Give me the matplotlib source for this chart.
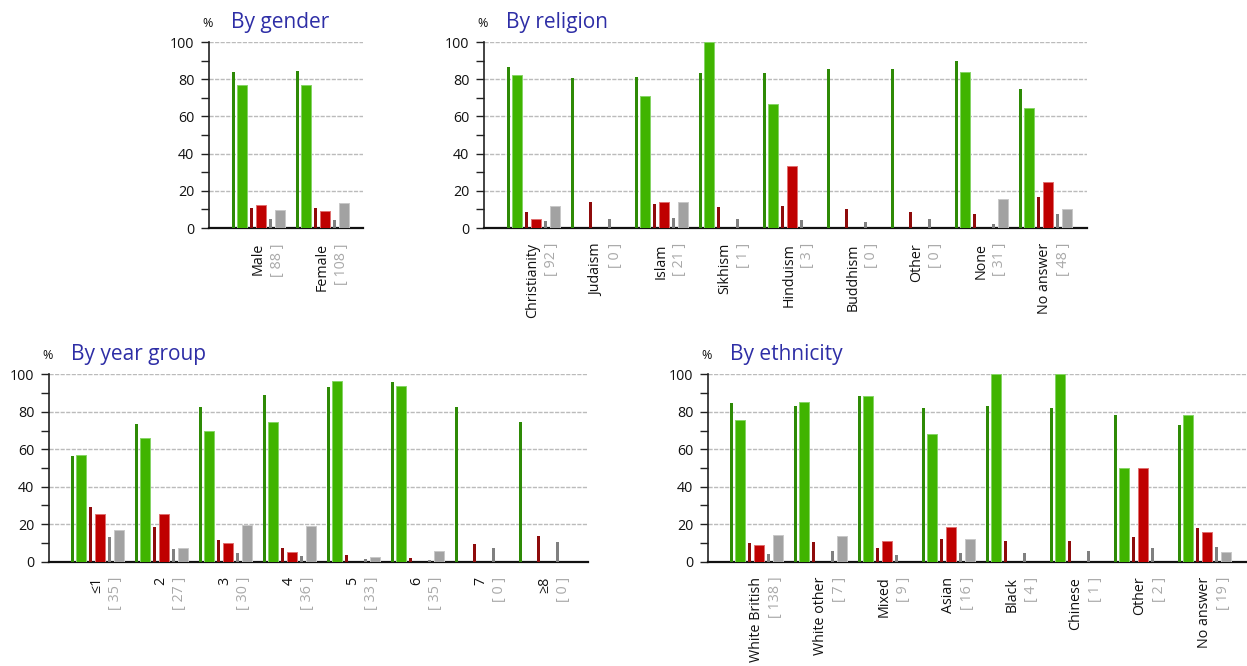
import matplotlib
matplotlib.use("Agg")
import matplotlib.pyplot as plt
import numpy as np

plt.rcParams['font.family'] = ['Open Sans', 'DejaVu Sans']

# ---------------- data ----------------
gender_cats = ["Male", "Female"]
gender_n = [88, 108]
gender_thin_green = [84, 84.3]
gender_green = [77.1, 76.7]
gender_thin_red = [10.7, 10.7]
gender_red = [12.2, 9.1]
gender_thin_gray = [4.7, 4.5]
gender_gray = [9.8, 13.6]

religion_cats = ["Christianity", "Judaism", "Islam", "Sikhism", "Hinduism",
                 "Buddhism", "Other", "None", "No answer"]
religion_n = [92, 0, 21, 1, 3, 0, 0, 31, 48]
religion_thin_green = [86.8, 80.5, 81.0, 83.5, 83.5, 85.7, 85.7, 89.6, 74.6]
religion_green = [82.5, 0, 71.2, 100, 66.4, 0, 0, 83.9, 64.4]
religion_thin_red = [8.8, 13.8, 12.9, 11.1, 11.6, 10.4, 8.8, 7.5, 16.8]
religion_red = [5.0, 0, 14.0, 0, 33.1, 0, 0, 0, 24.7]
religion_thin_gray = [3.8, 4.7, 5.2, 4.7, 4.1, 3.2, 4.8, 2.3, 7.7]
religion_gray = [11.6, 0, 14.0, 0, 0, 0, 0, 15.7, 10.2]

year_cats = ["≤1", "2", "3", "4", "5", "6", "7", "≥8"]
year_n = [35, 27, 30, 36, 33, 35, 0, 0]
year_thin_green = [56.6, 73.7, 82.6, 89.0, 93.4, 95.9, 82.6, 74.6]
year_green = [56.8, 66.2, 69.6, 74.6, 96.4, 93.8, 0, 0]
year_thin_red = [29.2, 18.7, 11.7, 7.1, 3.6, 2.0, 9.4, 13.9]
year_red = [25.6, 25.6, 9.8, 5.3, 0, 0, 0, 0]
year_thin_gray = [13.3, 6.8, 4.8, 3.0, 1.4, 0.9, 7.1, 10.5]
year_gray = [16.9, 7.1, 19.8, 19.2, 2.7, 5.5, 0, 0]

eth_cats = ["White British", "White other", "Mixed", "Asian", "Black",
            "Chinese", "Other", "No answer"]
eth_n = [138, 7, 9, 16, 4, 1, 2, 19]
eth_thin_green = [84.9, 83.3, 88.6, 81.9, 83.1, 82.0, 78.3, 73.1]
eth_green = [75.6, 85.2, 88.6, 68.1, 100, 100, 50, 78.3]
eth_thin_red = [10.1, 10.3, 7.3, 12.3, 11.2, 11.0, 13.3, 18.0]
eth_red = [9.1, 0, 11.0, 18.5, 0, 0, 50, 15.7]
eth_thin_gray = [4.1, 5.5, 3.4, 4.8, 4.6, 5.9, 7.1, 7.8]
eth_gray = [14.2, 13.9, 0, 12.3, 0, 0, 0, 5.0]

# ---------------- style ----------------
W, H = 1247, 666
DPI = 100
fig = plt.figure(figsize=(W / DPI, H / DPI), dpi=DPI)

THIN_W = 3 / 64
WIDE_W = 10 / 64
series_style = [
    # (offset, width, face, edge)
    (0 / 64, THIN_W, '#2e8a06', 'none'),
    (5 / 64, WIDE_W, '#40b400', '#86d466'),
    (18 / 64, THIN_W, '#8e0b0b', 'none'),
    (24 / 64, WIDE_W, '#bf0000', '#e07070'),
    (37 / 64, THIN_W, '#808080', 'none'),
    (43 / 64, WIDE_W, '#a2a2a2', '#c8c8c8'),
]
TITLE_COLOR = '#2e2ea6'
COUNT_COLOR = '#a8a8a8'


def panel(left, top, right, bottom, first_gap, title, cats, counts, series):
    ax = fig.add_axes([left / W, 1 - bottom / H, (right - left) / W, (bottom - top) / H])
    width_units = (right - left) / 64
    x0 = -first_gap / 64
    ax.set_xlim(x0, x0 + width_units)
    ax.set_ylim(0, 100)
    idx = np.arange(len(cats))
    for (off, w, face, edge), vals in zip(series_style, series):
        vals = np.asarray(vals, dtype=float)
        m = vals > 0
        ax.bar(idx[m] + off, vals[m], width=w, align='edge', color=face,
               edgecolor=edge, linewidth=0.7 if edge != 'none' else 0, zorder=3)
    ax.set_yticks([0, 20, 40, 60, 80, 100])
    ax.set_yticks([10, 30, 50, 70, 90], minor=True)
    ax.tick_params(axis='y', which='both', direction='out', length=5.8, width=1,
                   color='#222222', labelsize=10.3, pad=4.8, labelcolor='#111111')
    ax.set_xticks([])
    for yv in [20, 40, 60, 80, 100]:
        ax.axhline(yv, color='#bbbbbb', linewidth=1.0, linestyle=(0, (3, 1)), zorder=1)
    for s in ['top', 'right']:
        ax.spines[s].set_visible(False)
    ax.spines['left'].set_color('#222222')
    ax.spines['left'].set_linewidth(1.2)
    ax.spines['bottom'].set_color('#111111')
    ax.spines['bottom'].set_linewidth(1.6)
    ax.set_facecolor('none')
    for i, (c, n) in enumerate(zip(cats, counts)):
        ax.annotate(c, xy=(i + 26 / 64, 0), xycoords='data', xytext=(0, -15),
                    textcoords='offset pixels', rotation=90, ha='center', va='top',
                    fontsize=10.3, color='#111111', annotation_clip=False)
        ax.annotate(f"[ {n} ]", xy=(i + 45 / 64, 0), xycoords='data', xytext=(0, -15),
                    textcoords='offset pixels', rotation=90, ha='center', va='top',
                    fontsize=10.3, color=COUNT_COLOR, annotation_clip=False)
    # title and % sign
    fig.text((left + 22) / W, 1 - (top - 14) / H, title, fontsize=15,
             color=TITLE_COLOR, ha='left', va='baseline')
    fig.text((left - 7) / W, 1 - (top - 15) / H, "%", fontsize=9,
             color='#111111', ha='left', va='baseline')
    return ax


panel(209, 42, 363, 228, 23, "By gender", gender_cats, gender_n,
      [gender_thin_green, gender_green, gender_thin_red, gender_red,
       gender_thin_gray, gender_gray])
panel(484, 42, 1087, 228, 23, "By religion", religion_cats, religion_n,
      [religion_thin_green, religion_green, religion_thin_red, religion_red,
       religion_thin_gray, religion_gray])
panel(49, 374.3, 588, 561.7, 22, "By year group", year_cats, year_n,
      [year_thin_green, year_green, year_thin_red, year_red,
       year_thin_gray, year_gray])
panel(708, 374.3, 1247, 561.7, 22, "By ethnicity", eth_cats, eth_n,
      [eth_thin_green, eth_green, eth_thin_red, eth_red,
       eth_thin_gray, eth_gray])

fig.savefig("out.png", dpi=DPI)
